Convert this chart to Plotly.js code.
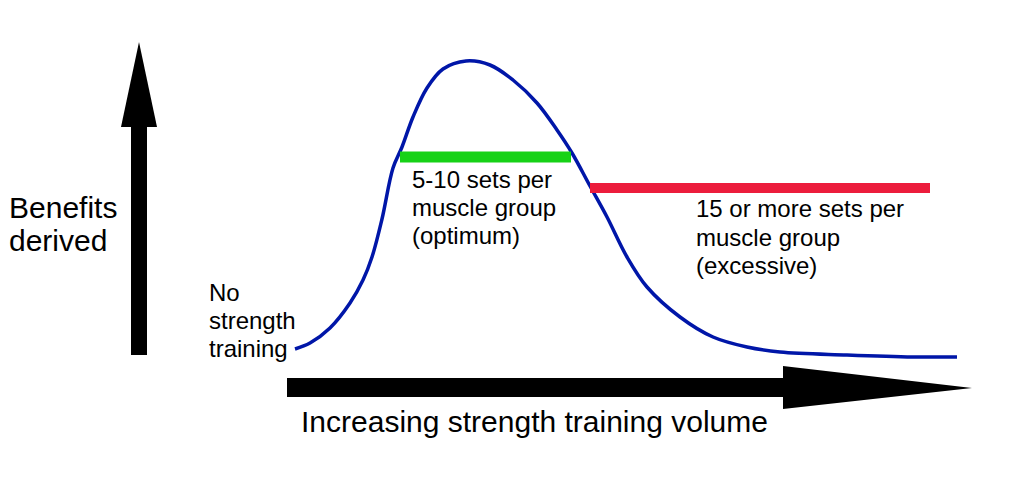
<!DOCTYPE html>
<html>
<head>
<meta charset="utf-8">
<script src="https://cdn.plot.ly/plotly-3.0.1.min.js"></script>
<style>html,body{margin:0;padding:0;background:#fff;}#chart{width:1017px;height:484px;}</style>
</head>
<body>
<div id="chart"></div>
<script>
// Benefit curve (diagram units: x = training volume, y = vertical position, top = 0)
const curveX = [295, 310, 330, 350, 363, 372, 382, 393, 402, 413, 427, 443, 466, 490, 513, 537, 557, 572, 590, 607, 627, 647, 680, 713, 747, 780, 847, 913, 957];
const curveY = [349, 343, 328, 303, 280, 257, 219, 168, 147, 117, 88, 69, 61, 65, 80, 103, 130, 153, 186, 217, 257, 287, 317, 337, 347, 352, 355, 357, 357];

// Range bars: optimum and excessive
const optimumX = [400, 571];
const optimumY = [157, 157];
const excessiveX = [590, 930];
const excessiveY = [188, 188];

// Text labels
const yAxisLabel = ["Benefits", "derived"];
const xAxisLabel = "Increasing strength training volume";
const startLabel = ["No", "strength", "training"];
const optimumLabel = ["5-10 sets per", "muscle group", "(optimum)"];
const excessiveLabel = ["15 or more sets per", "muscle group", "(excessive)"];

const FONT = "Liberation Sans, Arial, Helvetica, sans-serif";

const traces = [
  {x: curveX, y: curveY, mode: "lines", line: {color: "rgb(0,22,168)", width: 3.5, shape: "spline", smoothing: 1}, hoverinfo: "skip"},
  {x: optimumX, y: optimumY, mode: "lines", line: {color: "rgb(22,210,22)", width: 11}, hoverinfo: "skip"},
  {x: excessiveX, y: excessiveY, mode: "lines", line: {color: "rgb(236,28,60)", width: 10}, hoverinfo: "skip"}
];

function lines(arr, x, baseline, gap, size) {
  return arr.map((t, i) => ({
    x: x, y: baseline + i * gap - 0.34 * size, xref: "x", yref: "y",
    text: t, showarrow: false, xanchor: "left", yanchor: "middle",
    font: {family: FONT, size: size, color: "#000"}, borderpad: 0
  }));
}

const annotations = [].concat(
  lines(yAxisLabel, 8, 218, 33, 30),
  lines(startLabel, 208, 301, 28, 24),
  lines(optimumLabel, 411, 188, 28, 24),
  lines(excessiveLabel, 695, 217, 28.5, 24),
  [{x: 534, y: 421, xref: "x", yref: "y", text: xAxisLabel, showarrow: false,
    xanchor: "center", yanchor: "middle", font: {family: FONT, size: 30, color: "#000"}}]
);

// Axis arrows (drawn as filled paths)
const vShaft = {x0: 131, x1: 147, y0: 127, y1: 355};
const vHead = {xl: 121, xr: 157, base: 127, tip: 42, cx: 139};
const hShaft = {x0: 287, x1: 783, y0: 378, y1: 397};
const hHead = {base: 783, top: 366, bottom: 409, tip: 972, cy: 388};

const shapes = [
  {type: "rect", xref: "x", yref: "y", x0: vShaft.x0, x1: vShaft.x1, y0: vShaft.y0, y1: vShaft.y1, fillcolor: "#000", line: {width: 0}},
  {type: "path", xref: "x", yref: "y", path: `M${vHead.xl},${vHead.base} L${vHead.xr},${vHead.base} L${vHead.cx},${vHead.tip} Z`, fillcolor: "#000", line: {width: 0}},
  {type: "rect", xref: "x", yref: "y", x0: hShaft.x0, x1: hShaft.x1, y0: hShaft.y0, y1: hShaft.y1, fillcolor: "#000", line: {width: 0}},
  {type: "path", xref: "x", yref: "y", path: `M${hHead.base},${hHead.top} L${hHead.base},${hHead.bottom} L${hHead.tip},${hHead.cy} Z`, fillcolor: "#000", line: {width: 0}}
];

const layout = {
  width: 1017, height: 484,
  margin: {l: 0, r: 0, t: 0, b: 0, pad: 0},
  paper_bgcolor: "#fff", plot_bgcolor: "#fff",
  showlegend: false,
  xaxis: {range: [0, 1017], visible: false, fixedrange: true},
  yaxis: {range: [484, 0], visible: false, fixedrange: true},
  annotations: annotations,
  shapes: shapes
};

Plotly.newPlot("chart", traces, layout, {staticPlot: true, displayModeBar: false});
</script>
</body>
</html>
